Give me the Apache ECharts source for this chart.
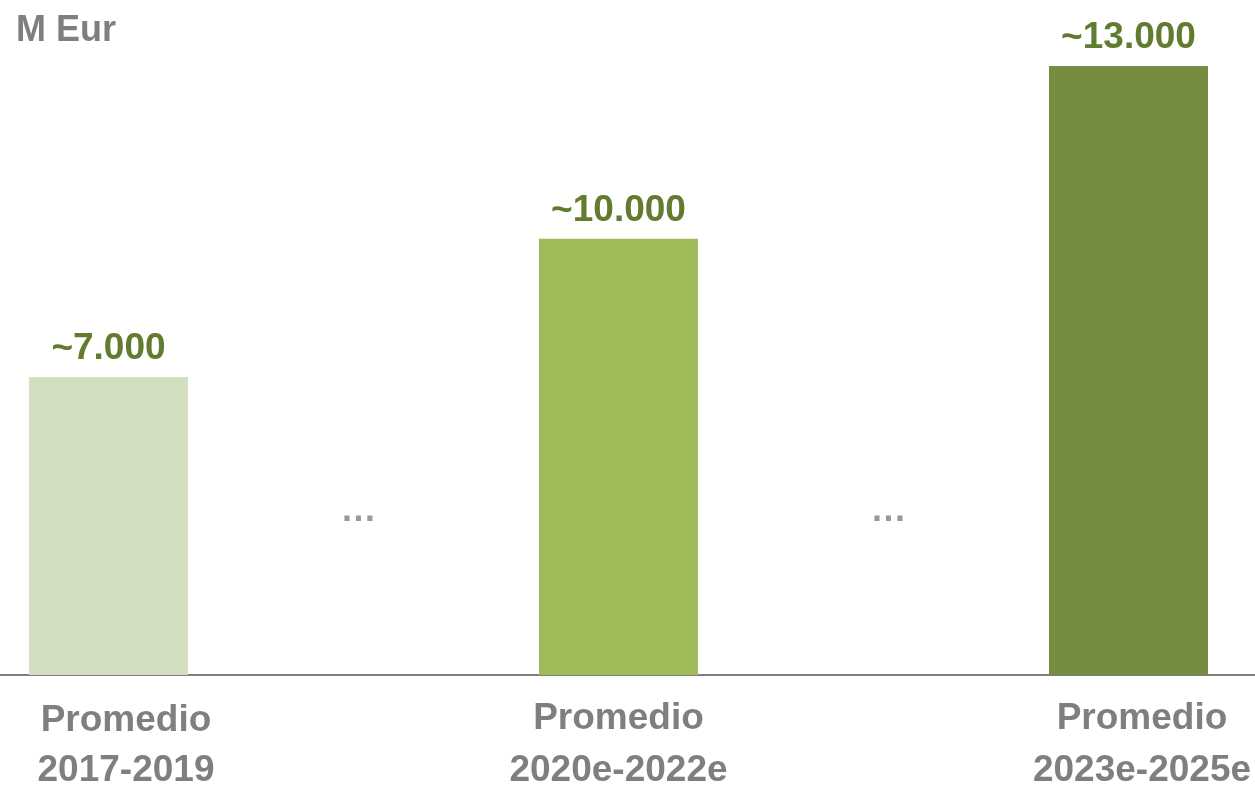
<!DOCTYPE html>
<html>
<head>
<meta charset="utf-8">
<title>M Eur</title>
<script src="https://cdn.jsdelivr.net/npm/echarts@6/dist/echarts.min.js"></script>
<style>
    html, body { margin: 0; padding: 0; background: #fff; }
    #chart { width: 1255px; height: 786px; }
</style>
</head>
<body>
<div id="chart"></div>
<script>
// categories: bars alternate with the "…" gaps
var categories = ['Promedio\n2017-2019', '', 'Promedio\n2020e-2022e', '', 'Promedio\n2023e-2025e'];
var barValues = [6360, '-', 9310, '-', 13000];
var barLabels = ['~7.000', '', '~10.000', '', '~13.000'];
var barColors = ['#d3dfc1', null, '#9dbb59', null, '#758d40'];
var gapDots = ['-', 3500, '-', 3500, '-'];

var chart = echarts.init(document.getElementById('chart'));
var font = '"Liberation Sans", Arial, sans-serif';
var grey = '#7f7f7f';

function labelStyle(pad) {
    return { color: grey, fontSize: 37, fontWeight: 'bold', fontFamily: font, lineHeight: 52, padding: pad };
}

var option = {
    animation: false,
    title: {
        text: 'M Eur',
        left: 11,
        top: 8,
        textStyle: { color: grey, fontSize: 36, fontWeight: 'bold', fontFamily: font }
    },
    grid: { left: -19, right: -1, top: 66, bottom: 111, outerBoundsMode: 'none', containLabel: false },
    xAxis: {
        type: 'category',
        data: categories,
        axisLine: { lineStyle: { color: grey, width: 2 } },
        axisTick: { show: false },
        axisLabel: {
            margin: 18,
            interval: 0,
            formatter: function (value, idx) {
                if (!value) return '';
                var key = idx === 0 ? 'a' : (idx === 2 ? 'b' : 'c');
                var lines = value.split('\n');
                var first = idx === 0 ? 'a0' : key;
                return '{' + first + '|' + lines[0] + '}\n{' + key + '|' + lines[1] + '}';
            },
            rich: {
                a0: labelStyle([3, 0, 0, 35]),
                a: labelStyle([0, 0, 0, 35]),
                b: labelStyle([0, 0, 0, 0]),
                c: labelStyle([0, 0, 0, 27])
            }
        }
    },
    yAxis: {
        type: 'value',
        min: 0,
        max: 13000,
        show: false,
        splitLine: { show: false }
    },
    series: [
        {
            type: 'bar',
            barWidth: 159,
            data: barValues.map(function (v, i) {
                return { value: v, itemStyle: { color: barColors[i] || 'transparent' } };
            }),
            label: {
                show: true,
                position: 'top',
                distance: 10,
                color: '#617c2e',
                fontSize: 37,
                fontWeight: 'bold',
                fontFamily: font,
                formatter: function (p) { return barLabels[p.dataIndex]; }
            }
        },
        {
            type: 'scatter',
            symbolSize: 0,
            data: gapDots.map(function (v, i) {
                var item = { value: v };
                if (i === 1) item.label = { offset: [-5, 0] };
                if (i === 3) item.label = { offset: [15, 0] };
                return item;
            }),
            label: {
                show: true,
                position: 'inside',
                formatter: '…',
                color: grey,
                fontSize: 36,
                fontWeight: 'bold',
                fontFamily: font
            }
        }
    ]
};

chart.setOption(option);
</script>
</body>
</html>
